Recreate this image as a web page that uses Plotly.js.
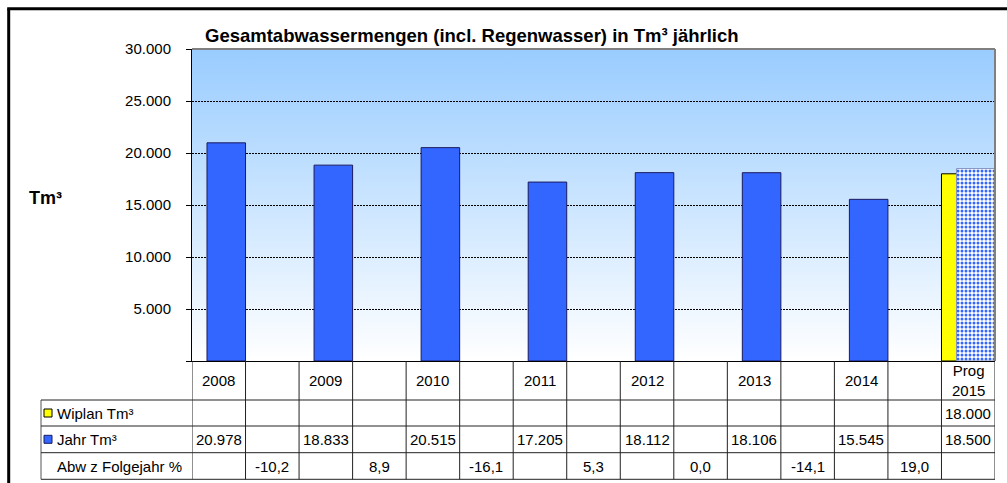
<!DOCTYPE html>
<html>
<head>
<meta charset="utf-8">
<script src="https://cdn.plot.ly/plotly-3.0.1.min.js"></script>
<style>html,body{margin:0;padding:0;background:#fff;}#chart{width:1007px;height:483px;}</style>
</head>
<body>
<div id="chart"></div>
<script>
// ---- data ----
const categories = ["2008", "", "2009", "", "2010", "", "2011", "", "2012", "", "2013", "", "2014", "", "Prog<br>2015"];
const wiplan = [null, null, null, null, null, null, null, null, null, null, null, null, null, null, 18000];
const jahr = [20978, null, 18833, null, 20515, null, 17205, null, 18112, null, 18106, null, 15545, null, 18500];
const abw = [null, -10.2, null, 8.9, null, -16.1, null, 5.3, null, 0.0, null, -14.1, null, 19.0, null];
const isForecast = [false, false, false, false, false, false, false, false, false, false, false, false, false, false, true];
const rowLabels = ["Wiplan Tm³", "Jahr Tm³", "Abw z Folgejahr %"];
const yTickVals = [0, 5000, 10000, 15000, 20000, 25000, 30000];
const titleText = "Gesamtabwassermengen (incl. Regenwasser) in Tm³ jährlich";
const yLabel = "Tm³";

// ---- layout helpers (pixel -> paper) ----
const W = 1007, H = 483;
const M = {l: 192, r: 12, t: 49, b: 122};
const PW = W - M.l - M.r, PH = H - M.t - M.b;
const px = x => (x - M.l) / PW;
const py = y => (H - M.b - y) / PH;
const FONT = "Liberation Sans, Arial, sans-serif";

const fmtThousands = v => String(v).replace(/\B(?=(\d{3})+(?!\d))/g, ".");
const fmtPct = v => v.toFixed(1).replace(".", ",");
const xs = categories.map((c, i) => i);

const traces = [
  {
    type: "bar", name: rowLabels[0], x: xs, y: wiplan,
    width: 0.72, offset: -0.5,
    marker: {color: "#FFFF00", line: {color: "#000000", width: 1}},
    hoverinfo: "skip"
  },
  {
    // white backing under the dotted forecast bar
    type: "bar", name: "backing", x: xs, y: jahr.map((v, i) => isForecast[i] ? v : null),
    width: 0.72, offset: -0.22,
    marker: {color: "#FFFFFF", line: {width: 0}},
    hoverinfo: "skip"
  },
  {
    type: "bar", name: rowLabels[1], x: xs, y: jahr,
    width: 0.72, offset: -0.22,
    marker: {
      color: isForecast.map(f => f ? "#3366FF" : "#3366FF"),
      line: {color: isForecast.map(f => f ? "#8090c0" : "#1a1a5e"), width: 1},
      pattern: {shape: isForecast.map(f => f ? "." : ""), fgcolor: "#3366FF", fgopacity: 1, size: 4, solidity: 0.45, fillmode: "replace"}
    },
    hoverinfo: "skip"
  }
];

const gradSvg = '<svg xmlns="http://www.w3.org/2000/svg" width="100" height="100" preserveAspectRatio="none">' +
  '<defs><linearGradient id="g" x1="0" y1="0" x2="0" y2="1">' +
  '<stop offset="0" stop-color="#99CCFF"/><stop offset="1" stop-color="#FFFFFF"/></linearGradient></defs>' +
  '<rect width="100" height="100" fill="url(#g)"/></svg>';

const shapes = [];
const lineCol = "#222222";
// outer frame (left and top edges visible)
shapes.push({type: "line", xref: "paper", yref: "paper", x0: px(8.7), x1: px(8.7), y0: py(8.7), y1: py(483), line: {color: "#000", width: 3}});
shapes.push({type: "line", xref: "paper", yref: "paper", x0: px(7.2), x1: px(1007), y0: py(8.7), y1: py(8.7), line: {color: "#000", width: 3}});
// plot border top & right (grey)
shapes.push({type: "line", xref: "paper", yref: "paper", x0: 0, x1: 1, y0: 1, y1: 1, line: {color: "#808080", width: 2}});
shapes.push({type: "line", xref: "paper", yref: "paper", x0: 1, x1: 1, y0: 0, y1: 1, line: {color: "#808080", width: 2}});
// table vertical lines
for (let i = 0; i <= categories.length; i++) {
  shapes.push({type: "line", xref: "x", yref: "paper", x0: i - 0.5, x1: i - 0.5, y0: py(361), y1: py(479.3), line: {color: lineCol, width: 1}});
}
// table left border of legend rows
shapes.push({type: "line", xref: "paper", yref: "paper", x0: px(41), x1: px(41), y0: py(400), y1: py(479.3), line: {color: "#555", width: 1}});
// horizontal lines
[400, 426, 452.7, 479.3].forEach(y => {
  shapes.push({type: "line", xref: "paper", yref: "paper", x0: px(41), x1: 1, y0: py(y), y1: py(y), line: {color: lineCol, width: 1}});
});
// legend markers
const markerCols = [["#FFFF00", "#000"], ["#3366FF", "#1a1a5e"]];
const rowCenters = [413, 439.3, 466];
markerCols.forEach((c, k) => {
  const yc = rowCenters[k];
  shapes.push({type: "rect", xref: "paper", yref: "paper", x0: px(44), x1: px(52), y0: py(yc + 4), y1: py(yc - 4), fillcolor: c[0], line: {color: c[1], width: 1}});
});

const annotations = [];
const tf = {family: FONT, size: 15, color: "#000"};
// y label
annotations.push({xref: "paper", yref: "paper", x: px(45), y: py(198), text: "<b>" + yLabel + "</b>", showarrow: false, font: {family: FONT, size: 18, color: "#000"}, xanchor: "center", yanchor: "middle"});
// header row
categories.forEach((c, i) => {
  if (!c) return;
  annotations.push({xref: "x", yref: "paper", x: i, y: py(380.5), text: c, showarrow: false, font: tf, xanchor: "center", yanchor: "middle"});
});
// row labels
rowLabels.forEach((t, k) => {
  annotations.push({xref: "paper", yref: "paper", x: px(55), y: py(rowCenters[k]), text: t, showarrow: false, font: tf, xanchor: "left", yanchor: "middle"});
});
// values
[wiplan, jahr].forEach((arr, k) => {
  arr.forEach((v, i) => {
    if (v === null) return;
    annotations.push({xref: "x", yref: "paper", x: i, y: py(rowCenters[k]), text: fmtThousands(v), showarrow: false, font: tf, xanchor: "center", yanchor: "middle"});
  });
});
abw.forEach((v, i) => {
  if (v === null) return;
  annotations.push({xref: "x", yref: "paper", x: i, y: py(rowCenters[2]), text: fmtPct(v), showarrow: false, font: tf, xanchor: "center", yanchor: "middle"});
});

const layout = {
  width: W, height: H,
  margin: M,
  paper_bgcolor: "#FFFFFF",
  plot_bgcolor: "rgba(0,0,0,0)",
  showlegend: false,
  barmode: "overlay",
  font: {family: FONT, size: 15, color: "#000"},
  title: {text: "<b>" + titleText + "</b>", font: {family: FONT, size: 18.5, color: "#000"}, xref: "paper", x: px(205), xanchor: "left", yref: "container", y: 1 - 36 / H, yanchor: "middle"},
  xaxis: {range: [-0.5, categories.length - 0.5], showticklabels: false, ticks: "", showgrid: false, zeroline: false, showline: true, linecolor: "#000", linewidth: 1, fixedrange: true},
  yaxis: {
    range: [0, 30000], tickvals: yTickVals, ticktext: yTickVals.map(v => v === 0 ? "" : fmtThousands(v)),
    ticks: "outside", ticklen: 5, tickcolor: "#000", ticklabelstandoff: 12,
    showgrid: true, gridcolor: "#000", griddash: "2px,1px", gridwidth: 1,
    zeroline: false, showline: true, linecolor: "#000", linewidth: 1,
    tickfont: {family: FONT, size: 15, color: "#000"}, fixedrange: true
  },
  images: [{source: "data:image/svg+xml;charset=utf-8," + encodeURIComponent(gradSvg), xref: "paper", yref: "paper", x: 0, y: 1, sizex: 1, sizey: 1, sizing: "stretch", xanchor: "left", yanchor: "top", layer: "below"}],
  shapes: shapes,
  annotations: annotations
};

Plotly.newPlot("chart", traces, layout, {displayModeBar: false, staticPlot: true});
</script>
</body>
</html>
